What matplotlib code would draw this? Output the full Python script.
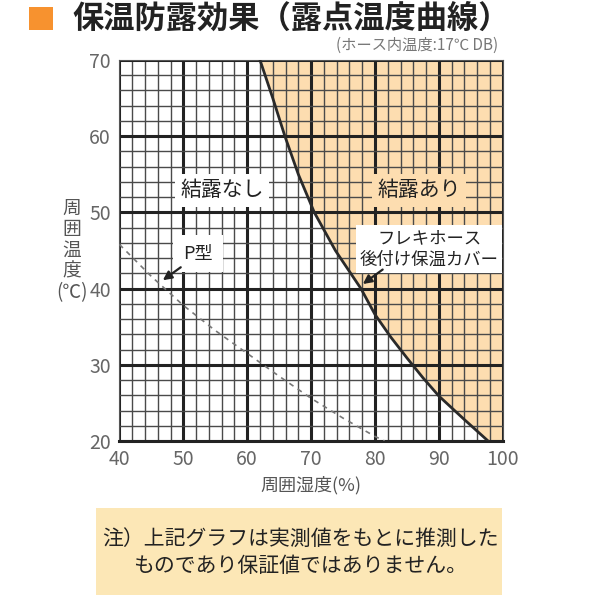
import matplotlib.pyplot as plt
import numpy as np
from matplotlib.patches import Rectangle

plt.rcParams['font.family'] = ['Noto Sans CJK JP', 'DejaVu Sans']

# dew point curve for flexible hose with cover (humidity %, temperature C)
flex_rh = [62.0, 64.0, 65.9, 68.0, 70.5, 73.8, 77.8, 80.0, 82.5, 85.0, 87.5, 90.0, 94.0, 97.7]
flex_temp = [70, 65, 60, 55, 50, 45, 40, 36.6, 33.6, 30.9, 28.3, 25.9, 22.8, 20]

# P type (dashed)
p_rh = [40.0, 45.0, 50.0, 55.0, 60.0, 65.0, 70.0, 75.0, 80.0, 81.5]
p_temp = [45.8, 41.6, 37.8, 34.5, 31.5, 28.5, 25.6, 23.0, 20.6, 20.0]

x_ticks = [40, 50, 60, 70, 80, 90, 100]
y_ticks = [20, 30, 40, 50, 60, 70]

fig = plt.figure(figsize=(6, 6), dpi=100)
ax = fig.add_axes([0.199, 0.265, 0.639, 0.635])
ax.set_xlim(40, 100)
ax.set_ylim(20, 70)

# shaded condensation region (right of the curve)
ax.fill_betweenx(flex_temp, flex_rh, 100, color='#FDDDB0', lw=0, zorder=0)

# grid
for v in np.arange(40, 101, 2):
    major = v % 10 == 0
    ax.axvline(v, color='#222222' if major else '#4a4a4a',
               lw=2.2 if major else 1.0, zorder=1)
for v in np.arange(20, 71, 2):
    major = v % 10 == 0
    ax.axhline(v, color='#222222' if major else '#4a4a4a',
               lw=2.2 if major else 1.0, zorder=1)

ax.plot(flex_rh, flex_temp, color='#2a2a2a', lw=2.0, zorder=3, solid_joinstyle='round')
ax.plot(p_rh, p_temp, color='#777777', lw=1.2, ls=(0, (3, 3)), zorder=3)

for s in ax.spines.values():
    s.set_color('#555555')
    s.set_linewidth(0.8)
ax.spines['bottom'].set_linewidth(2.2)
ax.spines['bottom'].set_color('#222222')

ax.set_xticks(x_ticks)
ax.set_yticks(y_ticks)
ax.tick_params(length=0, labelsize=14, labelcolor='#666666', pad=6)

# region labels
ax.text(56.1, 52.9, '結露なし', fontsize=15, ha='center', va='center', color='#222222', zorder=5,
        bbox=dict(boxstyle='square,pad=0.25', fc='white', ec='none'))
ax.text(86.9, 52.9, '結露あり', fontsize=15, ha='center', va='center', color='#222222', zorder=5,
        bbox=dict(boxstyle='square,pad=0.25', fc='#FDDDB0', ec='none'))

ax.text(52.3, 44.6, 'P型', fontsize=13, ha='center', va='center', color='#222222', zorder=5,
        bbox=dict(boxstyle='square,pad=0.55', fc='white', ec='none'))
ax.text(88.5, 45.2, 'フレキホース\n後付け保温カバー', fontsize=12.5, ha='center', va='center',
        linespacing=1.3, color='#222222', zorder=5,
        bbox=dict(boxstyle='square,pad=0.2', fc='white', ec='none'))

arrow = dict(arrowstyle='-|>', color='#222222', lw=1.6, mutation_scale=13, shrinkA=0, shrinkB=0)
ax.annotate('', xy=(46.8, 41.1), xytext=(49.6, 42.8), arrowprops=arrow, zorder=6)
ax.annotate('', xy=(78.1, 40.6), xytext=(81.2, 42.5), arrowprops=arrow, zorder=6)

ax.set_xlabel('周囲湿度(%)', fontsize=13, color='#555555', labelpad=4)
fig.text(0.12, 0.583, '周\n囲\n温\n度\n(℃)', fontsize=13.5, color='#555555', ha='center', va='center',
         linespacing=1.0)

# title
fig.patches.append(Rectangle((0.048, 0.950), 0.040, 0.038, transform=fig.transFigure,
                             fc='#F7922F', ec='none'))
fig.text(0.12, 0.969, '保温防露効果（露点温度曲線）', fontsize=22.5, fontweight='bold', color='#222222',
         ha='left', va='center')
fig.text(0.83, 0.925, '(ホース内温度:17℃ DB)', fontsize=11, color='#777777', ha='right', va='center')

# note box
fig.patches.append(Rectangle((0.16, 0.008), 0.677, 0.145, transform=fig.transFigure,
                             fc='#FCE7B6', ec='none'))
fig.text(0.5, 0.080, '注）上記グラフは実測値をもとに推測した\nものであり保証値ではありません。', fontsize=15,
         color='#222222', ha='center', va='center', linespacing=1.3)

fig.savefig('out.png', dpi=100)
